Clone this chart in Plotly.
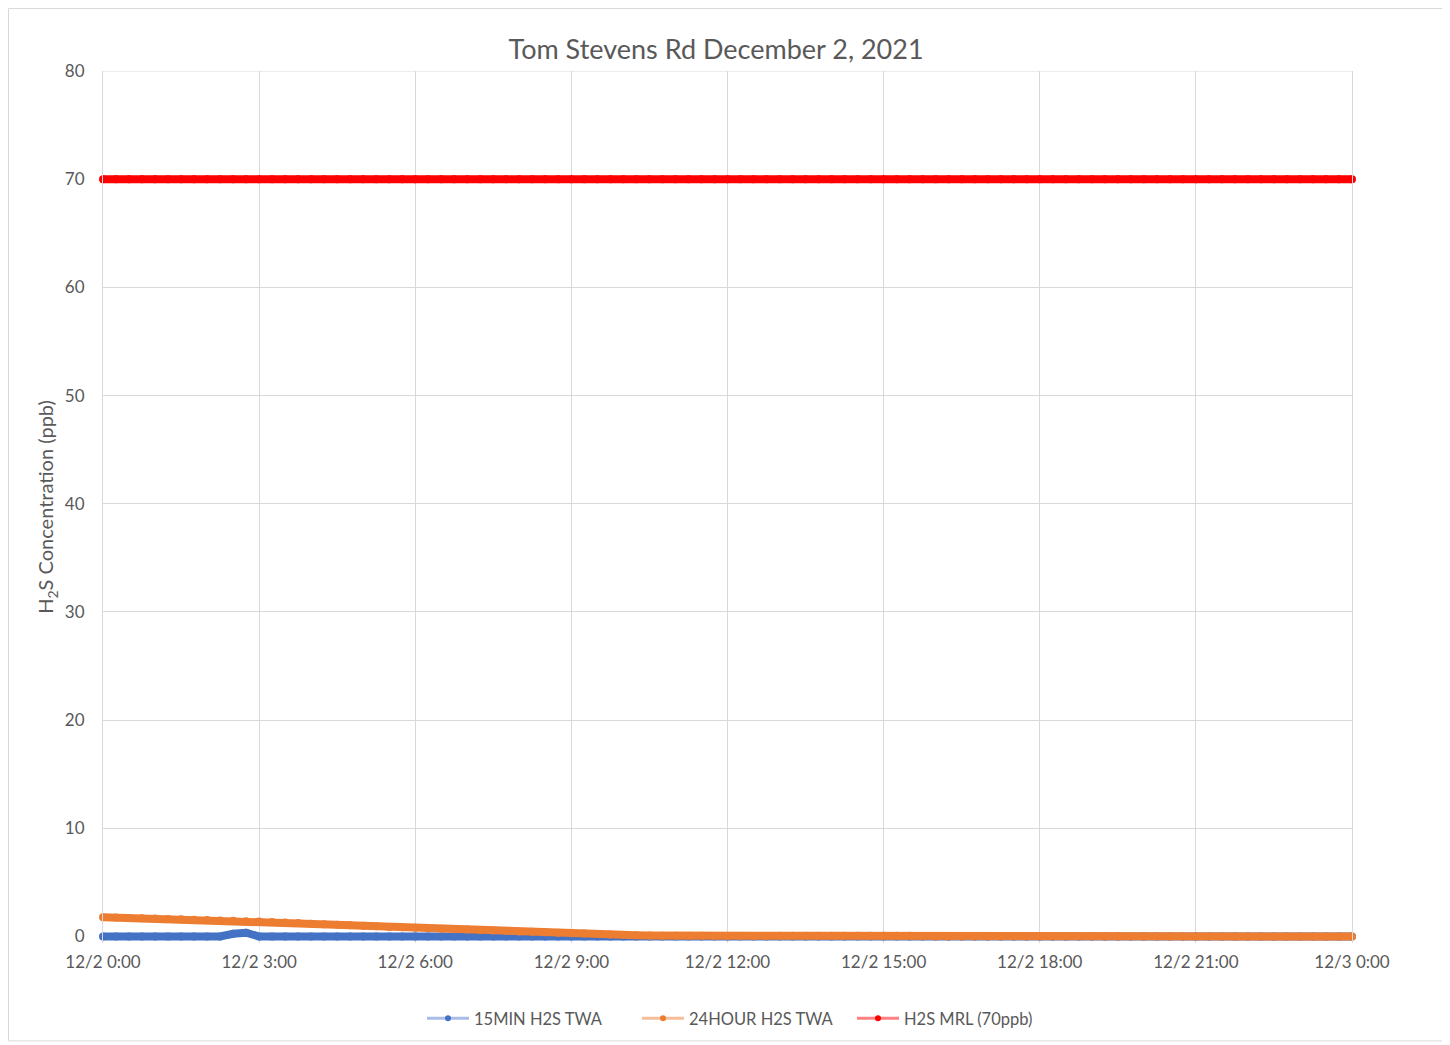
import pandas as pd
import plotly.graph_objects as go

# ---- data (15-minute readings, 12/2/2021 0:00 -> 12/3/2021 0:00) ----
start_time = "2021-12-02 00:00"
step = "15min"

twa_15min = [
    0.00, 0.00, 0.00, 0.00,
    0.00, 0.00, 0.00, 0.00,
    0.00, 0.00, 0.25, 0.35,
    0.00, 0.00, 0.00, 0.00,
    0.00, 0.00, 0.00, 0.00,
    0.00, 0.00, 0.00, 0.00,
    0.00, 0.00, 0.00, 0.00,
    0.00, 0.00, 0.00, 0.00,
    0.00, 0.00, 0.00, 0.00,
    0.00, 0.00, 0.00, 0.00,
    0.00, 0.00, 0.00, 0.00,
    0.00, 0.00, 0.00, 0.00,
    0.00, 0.00, 0.00, 0.00,
    0.00, 0.00, 0.00, 0.00,
    0.00, 0.00, 0.00, 0.00,
    0.00, 0.00, 0.00, 0.00,
    0.00, 0.00, 0.00, 0.00,
    0.00, 0.00, 0.00, 0.00,
    0.00, 0.00, 0.00, 0.00,
    0.00, 0.00, 0.00, 0.00,
    0.00, 0.00, 0.00, 0.00,
    0.00, 0.00, 0.00, 0.00,
    0.00, 0.00, 0.00, 0.00,
    0.00, 0.00, 0.00, 0.00,
    0.00,
]

twa_24hour = [
    1.79, 1.76, 1.72, 1.69,
    1.66, 1.62, 1.59, 1.56,
    1.52, 1.49, 1.46, 1.42,
    1.39, 1.34, 1.29, 1.24,
    1.19, 1.14, 1.09, 1.04,
    0.99, 0.94, 0.89, 0.85,
    0.80, 0.76, 0.72, 0.68,
    0.64, 0.60, 0.56, 0.52,
    0.47, 0.43, 0.39, 0.35,
    0.31, 0.27, 0.23, 0.19,
    0.15, 0.12, 0.10, 0.08,
    0.07, 0.06, 0.06, 0.05,
    0.05, 0.05, 0.05, 0.05,
    0.06, 0.06, 0.06, 0.06,
    0.07, 0.07, 0.07, 0.07,
    0.08, 0.08, 0.06, 0.03,
    0.00, 0.00, 0.00, 0.00,
    0.00, 0.00, 0.00, 0.00,
    0.00, 0.00, 0.00, 0.00,
    0.00, 0.00, 0.00, 0.00,
    0.00, 0.00, 0.00, 0.00,
    0.00, 0.00, 0.00, 0.00,
    0.00, 0.00, 0.00, 0.00,
    0.00, 0.00, 0.00, 0.00,
    0.00,
]

mrl_value = 70

series_names = ["15MIN H2S TWA", "24HOUR H2S TWA", "H2S MRL (70ppb)"]
title_text = "Tom Stevens Rd December 2, 2021"
y_title = "H<sub>2</sub>S Concentration (ppb)"
y_ticks = [0, 10, 20, 30, 40, 50, 60, 70, 80]

times = pd.date_range(start=start_time, periods=len(twa_24hour), freq=step)
mrl = [mrl_value] * len(times)

# ---- styling ----
colors = ["#4472C4", "#ED7D31", "#FF0000"]
legend_line_colors = ["#A9BEE6", "#F6BE98", "#FF8080"]
font_family = "Lato, 'Open Sans', sans-serif"
text_color = "#595959"
grid_color = "#D9D9D9"

W, H = 1438, 1034
L, T = 95, 63
plot_w = 1249
plot_h = 872.5
R = W - L - plot_w
B = H - T - plot_h

fig = go.Figure()

for vals, color in zip([twa_15min, twa_24hour, mrl], colors):
    fig.add_trace(go.Scatter(
        x=times, y=vals, mode="lines+markers",
        line=dict(color=color, width=8),
        marker=dict(color=color, size=8),
        showlegend=False, cliponaxis=False, hoverinfo="skip",
    ))

# legend entries (thin, light line with solid dot as in the original)
for name, color, lcolor in zip(series_names, colors, legend_line_colors):
    fig.add_trace(go.Scatter(
        x=[None], y=[None], mode="lines+markers", name=name,
        line=dict(color=lcolor, width=3),
        marker=dict(color=color, size=6),
    ))

fig.update_layout(
    width=W, height=H,
    margin=dict(l=L, r=R, t=T, b=B, autoexpand=False),
    paper_bgcolor="white", plot_bgcolor="white",
    font=dict(family=font_family, size=17, color=text_color),
    title=dict(text=title_text, x=0.4924, xanchor="center", y=1 - 42 / H, yanchor="middle",
               xref="container", yref="container",
               font=dict(family=font_family, size=27, color=text_color)),
    legend=dict(orientation="h", x=(414 - L) / plot_w, xanchor="left",
                y=(T + plot_h - 1011) / plot_h, yanchor="middle",
                font=dict(size=16.5, color=text_color), bgcolor="rgba(0,0,0,0)",
                itemwidth=42, entrywidth=158),
    showlegend=True,
)

fig.update_xaxes(
    type="date",
    range=[times[0], times[-1]],
    dtick=3 * 3600 * 1000,
    tick0=times[0],
    tickformat="%-m/%-d %-H:%M",
    showgrid=True, gridcolor=grid_color, gridwidth=1,
    showline=False,
    ticks="outside", ticklen=4, tickcolor="rgba(0,0,0,0)",
    tickfont=dict(size=17, color=text_color),
    zeroline=False,
)

fig.update_yaxes(
    range=[-0.6, 80], tickvals=y_ticks,
    showgrid=True, gridcolor=grid_color, gridwidth=1,
    showline=True, linecolor=grid_color, linewidth=1, mirror=True,
    zeroline=True, zerolinecolor=grid_color, zerolinewidth=1,
    ticks="outside", ticklen=14, tickcolor="rgba(0,0,0,0)",
    tickfont=dict(size=17, color=text_color),
    title=dict(text=y_title, font=dict(size=20, color=text_color), standoff=5),
)

# top border of the plot area at 80
fig.add_shape(type="line", xref="paper", yref="y", x0=0, x1=1, y0=80, y1=80,
              line=dict(color=grid_color, width=1), layer="below")

# outer chart-area border
fig.add_shape(type="rect", xref="paper", yref="paper",
              x0=(0.5 - L) / plot_w, x1=(W - 0.5 - L) / plot_w,
              y0=(T + plot_h - (H - 0.5)) / plot_h, y1=(T + plot_h - 0.5) / plot_h,
              line=dict(color=grid_color, width=1), fillcolor="rgba(0,0,0,0)", layer="below")

fig.write_html("out.html")
